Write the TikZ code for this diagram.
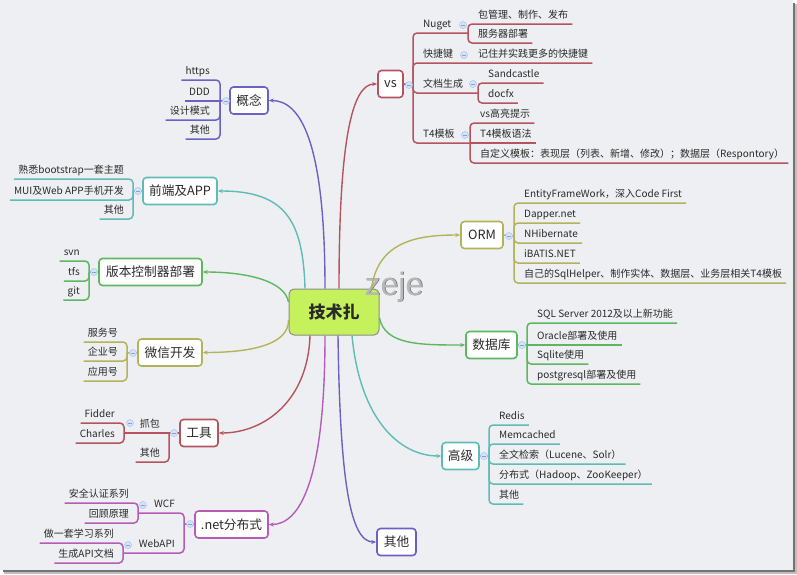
\documentclass[tikz,border=0pt]{standalone}
\usepackage{fontspec}
\setmainfont{Noto Sans CJK SC}
\newfontfamily\wmfont{Liberation Sans}
\usetikzlibrary{arrows.meta}
\definecolor{bg}{HTML}{EEEFF2}
\definecolor{txt}{HTML}{2A2A2A}
\definecolor{cR}{HTML}{B5545C}
\definecolor{cP}{HTML}{6A62C2}
\definecolor{cT}{HTML}{5FBCB5}
\definecolor{cG}{HTML}{5CB85F}
\definecolor{cO}{HTML}{B3B35A}
\definecolor{cM}{HTML}{B45CB8}
\definecolor{cen}{HTML}{C5F25C}
\definecolor{colf}{HTML}{D6E4F8}
\definecolor{cold}{HTML}{A6C2EC}
\definecolor{colm}{HTML}{7FA0D8}
\begin{document}
\begin{tikzpicture}[x=1pt,y=-1pt,
 topic/.style={draw=#1, line width=1.6pt, rounded corners=3.5pt, fill=white, text=txt, font=\fontsize{12.7}{14}\selectfont, minimum height=27pt, inner xsep=0pt},
 subR/.style={anchor=south west, inner xsep=4pt, inner ysep=3pt, text height=8pt, text depth=2pt, text=txt, font=\fontsize{10}{11}\selectfont},
 subL/.style={subR, anchor=south east},
 br/.style={draw=#1, line width=1.5pt, rounded corners=4pt},
 mainlink/.style={draw=#1, line width=1.4pt, -{Stealth[length=5pt,width=4pt]}},
 col/.style={circle, fill=colf, draw=cold, line width=0.5pt, minimum size=7pt, inner sep=0pt, path picture={\draw[colm, line width=0.6pt] ([xshift=1.8pt]path picture bounding box.west) -- ([xshift=-1.8pt]path picture bounding box.east);}},
]
% frame and background
\fill[white] (0,0) rectangle (797,574);
\fill[black!25] (4,4) rectangle (797,574);
\fill[black!55] (3,3) rectangle (795,572);
\fill[bg] (0,0) rectangle (792.5,569.5);
\useasboundingbox (0,0) rectangle (797,574);

% central node
\node[draw=black!45, line width=1pt, fill=cen, rounded corners=5pt, minimum width=90pt, minimum height=46pt, font=\fontsize{17}{20}\selectfont\bfseries, text=txt] (center) at (334,312) {技术扎};

% watermark
\node[anchor=base, font=\wmfont\fontsize{32}{36}\selectfont, text=black!60] (wms) at (394.8,295.8) {zeje};
\node[anchor=base, font=\wmfont\fontsize{32}{36}\selectfont, text=black!28] (wm) at (394,295) {zeje};

% ===== topics =====
\node[topic=cR, minimum width=25pt] (vs) at (390.5,84) {vs};
\node[topic=cP, minimum width=38pt] (gn) at (249,100.5) {概念};
\node[topic=cT, minimum width=74pt] (qd) at (180,191) {前端及APP};
\node[topic=cG, minimum width=103pt] (bb) at (150.5,272) {版本控制器部署};
\node[topic=cO, minimum width=64pt] (wx) at (170,352.5) {微信开发};
\node[topic=cR, minimum width=38pt] (gju) at (199,433) {工具};
\node[topic=cM, minimum width=73pt] (net) at (231.5,524.5) {.net分布式};
\node[topic=cP, minimum width=39pt] (qt) at (396.5,542) {其他};
\node[topic=cO, minimum width=42pt] (orm) at (482,235) {ORM};
\node[topic=cG, minimum width=51pt] (db) at (491.5,345) {数据库};
\node[topic=cT, minimum width=37pt] (gj) at (460.5,456) {高级};

% ===== main connectors =====
\draw[mainlink=cR] ([xshift=5pt]center.north) .. controls (339,140) and (352,84) .. (vs.west);
\draw[mainlink=cP] ([xshift=-9pt]center.north) .. controls (325,140) and (300,100.5) .. (gn.east);
\draw[mainlink=cT] ([xshift=-29pt]center.north) .. controls (303,220) and (285,191) .. (qd.east);
\draw[mainlink=cG] ([yshift=10pt]center.west) .. controls (285,282) and (250,272) .. (bb.east);
\draw[mainlink=cO] ([yshift=-8pt]center.west) .. controls (289,345) and (250,352.5) .. (wx.east);
\draw[mainlink=cR] ([xshift=-24pt]center.south) .. controls (308,400) and (265,433) .. (gju.east);
\draw[mainlink=cM] ([xshift=-9pt]center.south) .. controls (325,480) and (300,524.5) .. (net.east);
\draw[mainlink=cP] ([xshift=4pt]center.south) .. controls (340,480) and (350,542) .. (qt.west);
\draw[mainlink=cT] ([xshift=18pt]center.south) .. controls (360,420) and (400,456) .. (gj.west);
\draw[mainlink=cO] ([xshift=-8pt]center.north east) .. controls (378,240) and (420,235) .. (orm.west);
\draw[mainlink=cG] ([yshift=-6pt]center.east) .. controls (385,345) and (420,345) .. (db.west);

% ===== vs branch =====
\coordinate (vsB) at (413,85);
\coordinate (nugetB) at (468,33);
\coordinate (wdB) at (478,93);
\coordinate (t4B) at (470,143);
\node[subR] (nuget) at (419,33) {Nuget};
\node[subR] (v1) at (474,24) {包管理、制作、发布};
\node[subR] (v2) at (474,43) {服务器部署};
\node[subR] (kj) at (419,63) {快捷键};
\node[subR] (v3) at (474,63) {记住并实践更多的快捷键};
\node[subR] (wd) at (419,93) {文档生成};
\node[subR] (v4) at (484,83) {Sandcastle};
\node[subR] (v5) at (484,103) {docfx};
\node[subR] (t4) at (419,143) {T4模板};
\node[subR] (v6) at (476,123) {vs高亮提示};
\node[subR] (v7) at (476,143) {T4模板语法};
\node[subR] (v8) at (476,163) {自定义模板：表现层（列表、新增、修改）；数据层（Respontory）};
\draw[br=cR] (vs.east) -- (vsB);
\draw[br=cR] (vsB) |- (nugetB);
\draw[br=cR] (nugetB) |- (v1.south east);
\draw[br=cR] (nugetB) |- (v2.south east);
\draw[br=cR] (vsB) |- (v3.south east);
\draw[br=cR] (vsB) |- (wdB);
\draw[br=cR] (wdB) |- (v4.south east);
\draw[br=cR] (wdB) |- (v5.south east);
\draw[br=cR] (vsB) |- (t4B);
\draw[br=cR] (t4B) |- (v6.south east);
\draw[br=cR] (t4B) -- (v7.south east);
\draw[br=cR] (t4B) |- (v8.south east);
\node[col] (vsc) at (409,85) {};
\node[col] (nugetc) at (463,25) {};
\node[col] (kjc) at (464,55) {};
\node[col] (wdc) at (473,84) {};
\node[col] (t4c) at (465,135) {};

% ===== ORM =====
\coordinate (ormB) at (514,236);
\node[subR] (o1) at (520,203) {EntityFrameWork，深入Code First};
\node[subR] (o2) at (520,223) {Dapper.net};
\node[subR] (o3) at (520,243) {NHibernate};
\node[subR] (o4) at (520,263) {iBATIS.NET};
\node[subR] (o5) at (520,283) {自己的SqlHelper、制作实体、数据层、业务层相关T4模板};
\draw[br=cO] (orm.east) -- (ormB);
\foreach \n in {o1,o2,o3,o4,o5} \draw[br=cO] (ormB) |- (\n.south east);
\node[col] (ormc) at (509,236) {};

% ===== 数据库 =====
\coordinate (dbB) at (527,345);
\node[subR] (d1) at (533,323) {SQL Server 2012及以上新功能};
\node[subR] (d2) at (533,345) {Oracle部署及使用};
\node[subR] (d3) at (533,364) {Sqlite使用};
\node[subR] (d4) at (533,384) {postgresql部署及使用};
\draw[br=cG] (db.east) -- (dbB);
\draw[br=cG] (dbB) |- (d1.south east);
\draw[br=cG] (dbB) -- (d2.south east);
\draw[br=cG] (dbB) |- (d3.south east);
\draw[br=cG] (dbB) |- (d4.south east);
\node[col] (dbc) at (522,345) {};

% ===== 高级 =====
\coordinate (gjB) at (489,456);
\node[subR] (g1) at (495,425) {Redis};
\node[subR] (g2) at (495,444) {Memcached};
\node[subR] (g3) at (495,464) {全文检索（Lucene、Solr）};
\node[subR] (g4) at (495,484) {分布式（Hadoop、ZooKeeper）};
\node[subR] (g5) at (495,504) {其他};
\draw[br=cT] (gj.east) -- (gjB);
\foreach \n in {g1,g2,g3,g4,g5} \draw[br=cT] (gjB) |- (\n.south east);
\node[col] (gjc) at (484,456) {};

% ===== 概念 =====
\coordinate (gnB) at (220,101);
\node[subL] (n1) at (214,80) {https};
\node[subL] (n2) at (214,101) {DDD};
\node[subL] (n3) at (214,120) {设计模式};
\node[subL] (n4) at (214,139) {其他};
\draw[br=cP] (gn.west) -- (gnB);
\draw[br=cP] (gnB) |- (n1.south west);
\draw[br=cP] (gnB) -- (n2.south west);
\draw[br=cP] (gnB) |- (n3.south west);
\draw[br=cP] (gnB) |- (n4.south west);
\node[col] (gnc) at (226,101) {};

% ===== 前端及APP =====
\coordinate (qdB) at (133,191);
\node[subL] (q1) at (128,179) {熟悉bootstrap一套主题};
\node[subL] (q2) at (128,200) {MUI及Web APP手机开发};
\node[subL] (q3) at (128,219) {其他};
\draw[br=cT] (qd.west) -- (qdB);
\foreach \n in {q1,q2,q3} \draw[br=cT] (qdB) |- (\n.south west);
\node[col] (qdc) at (138,191) {};

% ===== 版本控制器部署 =====
\coordinate (bbB) at (89,272);
\node[subL] (b1) at (84,261) {svn};
\node[subL] (b2) at (84,281) {tfs};
\node[subL] (b3) at (84,300) {git};
\draw[br=cG] (bb.west) -- (bbB);
\foreach \n in {b1,b2,b3} \draw[br=cG] (bbB) |- (\n.south west);
\node[col] (bbc) at (94,272) {};

% ===== 微信开发 =====
\coordinate (wxB) at (127,353);
\node[subL] (w1) at (122,342) {服务号};
\node[subL] (w2) at (122,361) {企业号};
\node[subL] (w3) at (122,381) {应用号};
\draw[br=cO] (wx.west) -- (wxB);
\foreach \n in {w1,w2,w3} \draw[br=cO] (wxB) |- (\n.south west);
\node[col] (wxc) at (133,353) {};

% ===== 工具 =====
\coordinate (gjuB) at (169,433);
\coordinate (zbB) at (124,433);
\node[subL] (zb) at (164,433) {抓包};
\node[subL] (u1) at (119,423) {Fidder};
\node[subL] (u2) at (119,443) {Charles};
\node[subL] (u3) at (164,462) {其他};
\draw[br=cR] (gju.west) -- (gjuB);
\draw[br=cR] (gjuB) -- (zbB);
\draw[br=cR] (gjuB) |- (u3.south west);
\draw[br=cR] (zbB) |- (u1.south west);
\draw[br=cR] (zbB) |- (u2.south west);
\node[col] (gjuc) at (174,433) {};
\node[col] (zbc) at (130,423) {};

% ===== .net分布式 =====
\coordinate (netB) at (184,524);
\coordinate (wcfB) at (138,513);
\coordinate (webB) at (123,553);
\node[subL] (wcf) at (179,513) {WCF};
\node[subL] (e1) at (133,503) {安全认证系列};
\node[subL] (e2) at (133,523) {回顾原理};
\node[subL] (web) at (179,553) {WebAPI};
\node[subL] (e3) at (118,543) {做一套学习系列};
\node[subL] (e4) at (118,563) {生成API文档};
\draw[br=cM] (net.west) -- (netB);
\draw[br=cM] (netB) |- (wcfB);
\draw[br=cM] (netB) |- (webB);
\draw[br=cM] (wcfB) |- (e1.south west);
\draw[br=cM] (wcfB) |- (e2.south west);
\draw[br=cM] (webB) |- (e3.south west);
\draw[br=cM] (webB) |- (e4.south west);
\node[col] (netc) at (190,524) {};
\node[col] (wcfc) at (143,505) {};
\node[col] (webc) at (128,545) {};
\end{tikzpicture}
\end{document}
